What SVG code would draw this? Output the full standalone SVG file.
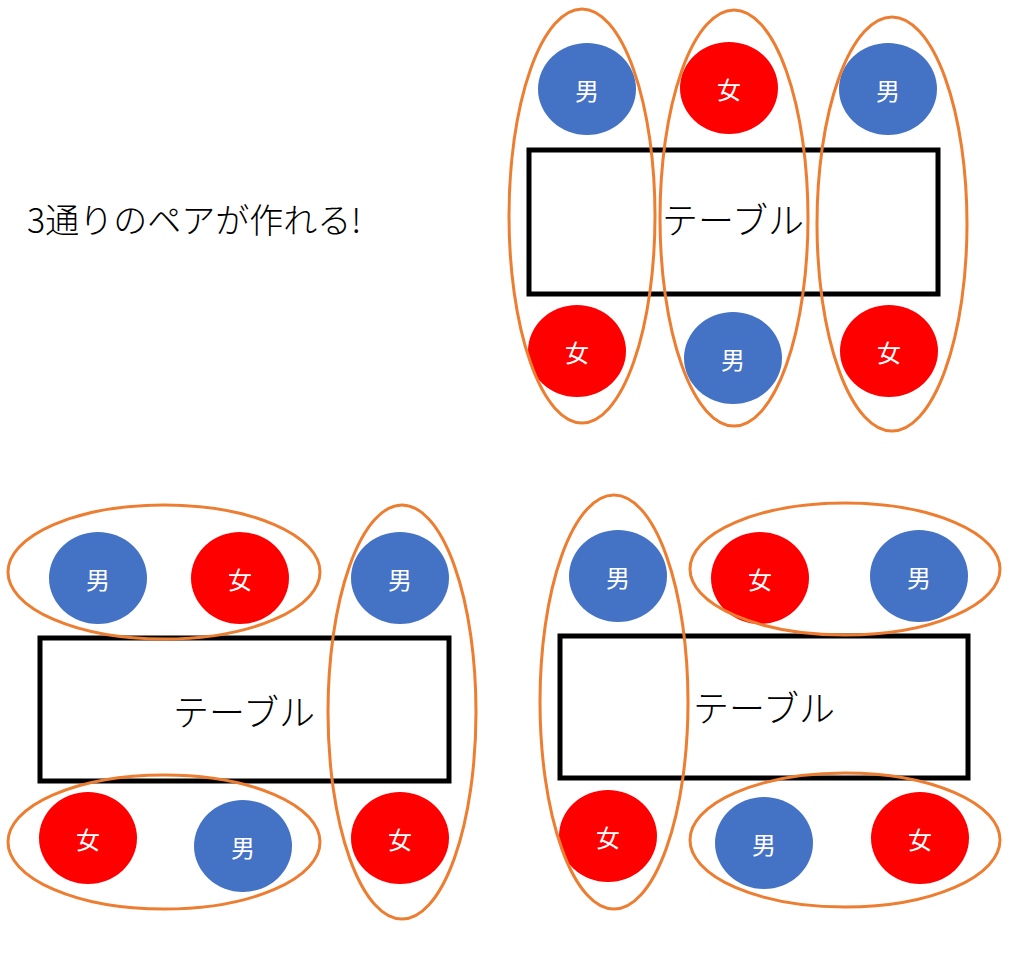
<svg xmlns="http://www.w3.org/2000/svg" width="1024" height="965" viewBox="0 0 1024 965">
<style>
.t{fill:#fff;stroke:#000;stroke-width:5}
.m{fill:#4472C4}.f{fill:#FF0000}
.p{fill:none;stroke:#ED7D31;stroke-width:3}
.l{font-family:"Noto Sans CJK JP",sans-serif;font-size:24px;fill:#fff;text-anchor:middle;dominant-baseline:central}
.tl{font-family:"Noto Sans CJK JP",sans-serif;font-size:36px;fill:#000;text-anchor:middle;dominant-baseline:central;font-weight:300}
</style>
<rect width="1024" height="965" fill="#fff"/>
<text x="27" y="218" font-family="Noto Sans CJK JP,sans-serif" font-size="34" font-weight="300" dominant-baseline="central">3通りのペアが作れる!</text>
<g id="d1">
<rect class="t" x="529" y="150" width="409" height="144"/>
<text class="tl" x="733" y="218">テーブル</text>
<ellipse class="m" cx="587" cy="89" rx="49" ry="46"/><text class="l" x="587" y="89">男</text>
<ellipse class="f" cx="729" cy="88" rx="49" ry="46"/><text class="l" x="729" y="88">女</text>
<ellipse class="m" cx="888" cy="89" rx="49" ry="46"/><text class="l" x="888" y="89">男</text>
<ellipse class="f" cx="577" cy="351" rx="49" ry="46"/><text class="l" x="577" y="351">女</text>
<ellipse class="m" cx="733" cy="358" rx="49" ry="46"/><text class="l" x="733" y="358">男</text>
<ellipse class="f" cx="889" cy="351" rx="49" ry="46"/><text class="l" x="889" y="351">女</text>
<ellipse class="p" cx="582" cy="216" rx="73" ry="207"/>
<ellipse class="p" cx="734" cy="218" rx="74" ry="208"/>
<ellipse class="p" cx="892" cy="224" rx="75" ry="207"/>
</g>
<g id="d2">
<rect class="t" x="40" y="638" width="409" height="143"/>
<text class="tl" x="244" y="710">テーブル</text>
<ellipse class="m" cx="98" cy="578" rx="49" ry="46"/><text class="l" x="98" y="578">男</text>
<ellipse class="f" cx="240" cy="578" rx="49" ry="46"/><text class="l" x="240" y="578">女</text>
<ellipse class="m" cx="400" cy="578" rx="49" ry="46"/><text class="l" x="400" y="578">男</text>
<ellipse class="f" cx="88" cy="838" rx="49" ry="46"/><text class="l" x="88" y="838">女</text>
<ellipse class="m" cx="243" cy="846" rx="49" ry="46"/><text class="l" x="243" y="846">男</text>
<ellipse class="f" cx="400" cy="838" rx="49" ry="46"/><text class="l" x="400" y="838">女</text>
<ellipse class="p" cx="164" cy="572" rx="156" ry="67"/>
<ellipse class="p" cx="164" cy="842" rx="156" ry="67"/>
<ellipse class="p" cx="402" cy="712" rx="74" ry="207"/>
</g>
<g id="d3">
<rect class="t" x="560" y="636" width="408" height="142"/>
<text class="tl" x="764" y="706">テーブル</text>
<ellipse class="m" cx="618" cy="576" rx="49" ry="46"/><text class="l" x="618" y="576">男</text>
<ellipse class="f" cx="760" cy="578" rx="49" ry="46"/><text class="l" x="760" y="578">女</text>
<ellipse class="m" cx="919" cy="576" rx="49" ry="46"/><text class="l" x="919" y="576">男</text>
<ellipse class="f" cx="608" cy="836" rx="49" ry="46"/><text class="l" x="608" y="836">女</text>
<ellipse class="m" cx="764" cy="843" rx="49" ry="46"/><text class="l" x="764" y="843">男</text>
<ellipse class="f" cx="920" cy="838" rx="49" ry="46"/><text class="l" x="920" y="838">女</text>
<ellipse class="p" cx="614" cy="702" rx="74" ry="207"/>
<ellipse class="p" cx="845" cy="569" rx="155" ry="66"/>
<ellipse class="p" cx="845" cy="840" rx="155" ry="67"/>
</g>
<g id="connectors"/>
</svg>
